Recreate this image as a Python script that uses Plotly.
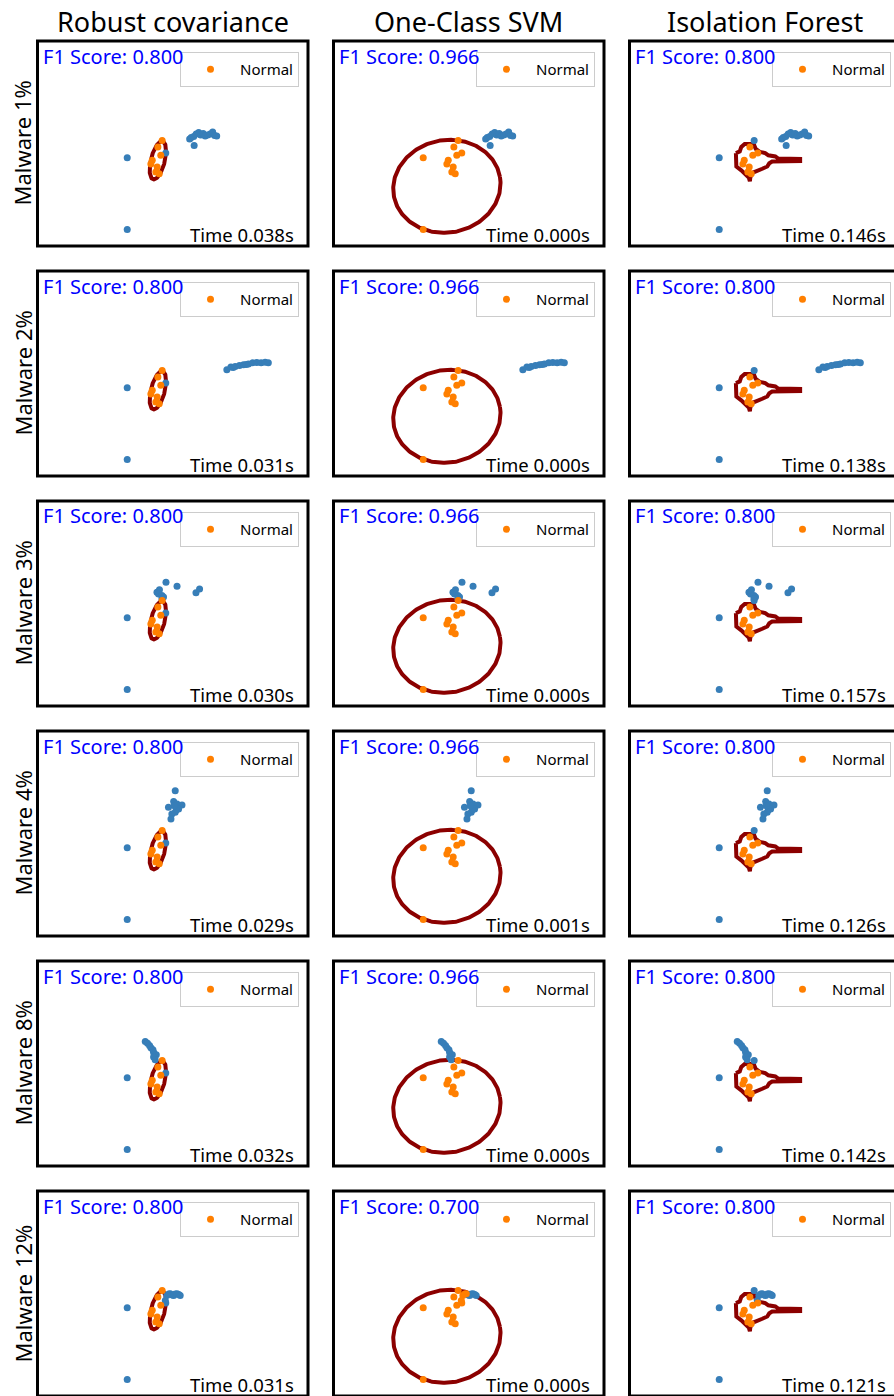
import numpy as np
import plotly.graph_objects as go
from plotly.subplots import make_subplots

# ---------------------------------------------------------------- data
methods = ["Robust covariance", "One-Class SVM", "Isolation Forest"]
malware_share = ["1%", "2%", "3%", "4%", "8%", "12%"]

f1_robust = [0.800, 0.800, 0.800, 0.800, 0.800, 0.800]
f1_svm = [0.966, 0.966, 0.966, 0.966, 0.966, 0.700]
f1_iforest = [0.800, 0.800, 0.800, 0.800, 0.800, 0.800]

time_robust = [0.038, 0.031, 0.030, 0.029, 0.032, 0.031]
time_svm = [0.000, 0.000, 0.000, 0.001, 0.000, 0.000]
time_iforest = [0.146, 0.138, 0.157, 0.126, 0.142, 0.121]

# benign traffic (2-D projection), shared by every experiment
normal_x = [-0.47, -0.66, -0.31, -0.53, -0.91, -0.97, -0.69, -0.75, -0.60, -2.02, -2.02]
normal_y = [0.13, -0.15, -0.42, -0.52, -0.74, -0.90, -1.03, -1.25, -1.33, -0.63, -3.78]

# injected malware samples for each contamination level
mal_1_x = [0.75, 0.82, 0.95, 0.93, 1.04, 1.15, 1.24, 1.35, 1.44, 1.55, 1.66, 1.77, 1.86, 1.95]
mal_1_y = [0.20, 0.26, -0.09, 0.31, 0.42, 0.48, 0.37, 0.44, 0.33, 0.37, 0.42, 0.50, 0.35, 0.33]
mal_2_x = [2.40, 2.58, 2.68, 2.77, 2.96, 3.14, 3.26, 3.36, 3.55, 3.73, 3.92, 4.10, 4.24]
mal_2_y = [0.16, 0.28, 0.26, 0.31, 0.35, 0.38, 0.39, 0.42, 0.47, 0.48, 0.47, 0.49, 0.47]
mal_3_x = [-0.30, 0.19, -0.70, -0.59, -0.63, -0.48, -0.41, -0.48, 1.19, 1.03]
mal_3_y = [0.93, 0.76, 0.49, 0.60, 0.42, 0.35, 0.28, 0.21, 0.64, 0.47]
mal_4_x = [0.11, 0.04, -0.19, 0.19, 0.41, 0.26, 0.11, -0.04, -0.08, 0.16, 0.07]
mal_4_y = [1.88, 1.41, 1.15, 1.30, 1.25, 1.08, 0.93, 0.86, 0.64, 1.04, 1.22]
mal_8_x = [-1.22, -1.12, -1.03, -0.97, -0.88, -0.85, -0.82, -0.73, -0.85, -0.78]
mal_8_y = [0.97, 0.89, 0.79, 0.69, 0.60, 0.49, 0.42, 0.38, 0.28, 0.16]
mal_12_x = [-0.33, -0.26, -0.18, -0.11, -0.02, 0.04, 0.11, 0.19, 0.27, 0.33]
mal_12_y = [-0.31, -0.09, -0.02, -0.01, -0.07, -0.09, -0.02, -0.01, -0.04, -0.09]

# benign samples each detector flags as anomalous
robust_flagged = [2, 9, 10]
svm_flagged = []
iforest_flagged = [0, 9, 10]
# malware samples accepted as normal by the One-Class SVM at 12 %
svm_missed_12 = [0, 1, 2, 3]

# learned decision boundaries
robust_center = (-0.66, -0.74)
robust_axes = (0.86, 0.31)
robust_angle = 76.0
svm_center = (-0.97, -1.88)
svm_axes = (2.39, 2.03)
svm_angle = 10.0
iforest_edge_x = [-1.28, -1.11, -1.04, -0.89, -0.49, -0.40, -0.22, 0.02, 0.16, 0.47,
                  0.60, 1.57, 1.57, 0.60, 0.33, 0.20, 0.11, -0.11, -0.42, -0.55,
                  -0.64, -0.66, -0.71, -0.86, -1.04, -1.26, -1.28]
iforest_edge_y = [-0.42, -0.35, -0.15, -0.02, -0.02, -0.24, -0.37, -0.42, -0.52, -0.57,
                  -0.66, -0.68, -0.77, -0.77, -0.79, -0.87, -1.01, -1.11, -1.22, -1.29,
                  -1.49, -1.66, -1.49, -1.33, -1.18, -1.01, -0.42]

# ---------------------------------------------------------------- layout constants
W, H = 894, 1396
FONT = "Noto Sans"
BLUE, ORANGE, EDGE = "#377eb8", "#ff7f00", "#8b0000"
col_left = [37.5, 333.5, 629.5]
row_top = [41 + 230 * r for r in range(6)]
panel_w, panel_h = 270.5, 205.0
x_span, y_span = (-6.0, 6.0), (-4.5, 4.5)
px_per_x = panel_w / (x_span[1] - x_span[0])


def ellipse(center, axes, angle_deg, n=240):
    t = np.linspace(0, 2 * np.pi, n)
    th = np.deg2rad(angle_deg)
    ex = center[0] + axes[0] * np.cos(t) * np.cos(th) - axes[1] * np.sin(t) * np.sin(th)
    ey = center[1] + axes[0] * np.cos(t) * np.sin(th) + axes[1] * np.sin(t) * np.cos(th)
    return ex, ey


malware_sets = [(mal_1_x, mal_1_y), (mal_2_x, mal_2_y), (mal_3_x, mal_3_y),
                (mal_4_x, mal_4_y), (mal_8_x, mal_8_y), (mal_12_x, mal_12_y)]
f1_table = [f1_robust, f1_svm, f1_iforest]
time_table = [time_robust, time_svm, time_iforest]
flag_table = [robust_flagged, svm_flagged, iforest_flagged]
boundaries = [ellipse(robust_center, robust_axes, robust_angle),
              ellipse(svm_center, svm_axes, svm_angle),
              (iforest_edge_x, iforest_edge_y)]

fig = make_subplots(rows=6, cols=3)
annotations, shapes = [], []

for r in range(6):
    mx, my = malware_sets[r]
    for c in range(3):
        k = r * 3 + c + 1
        leg = "legend" if k == 1 else f"legend{k}"
        bx, by = boundaries[c]
        fig.add_trace(go.Scatter(x=list(bx), y=list(by), mode="lines",
                                 line=dict(color=EDGE, width=4),
                                 showlegend=False, hoverinfo="skip"), row=r + 1, col=c + 1)

        flagged = set(flag_table[c])
        missed = set(svm_missed_12) if (c == 1 and r == 5) else set()
        inl_x = [normal_x[i] for i in range(len(normal_x)) if i not in flagged]
        inl_y = [normal_y[i] for i in range(len(normal_y)) if i not in flagged]
        out_x = [normal_x[i] for i in sorted(flagged)]
        out_y = [normal_y[i] for i in sorted(flagged)]
        for i in range(len(mx)):
            if i in missed:
                inl_x.append(mx[i]); inl_y.append(my[i])
            else:
                out_x.append(mx[i]); out_y.append(my[i])

        fig.add_trace(go.Scatter(x=out_x, y=out_y, mode="markers",
                                 marker=dict(color=BLUE, size=7, line=dict(width=0)),
                                 name="Malware", showlegend=False),
                      row=r + 1, col=c + 1)
        fig.add_trace(go.Scatter(x=inl_x, y=inl_y, mode="markers",
                                 marker=dict(color=ORANGE, size=7, line=dict(width=0)),
                                 name="Normal", showlegend=True, legend=leg),
                      row=r + 1, col=c + 1)

        # panel geometry in pixels -> paper fractions
        x0 = col_left[c]
        x1 = min(x0 + panel_w, W)
        y0 = row_top[r]
        y1 = y0 + panel_h
        xa = fig.layout[f"xaxis{k if k > 1 else ''}"]
        ya = fig.layout[f"yaxis{k if k > 1 else ''}"]
        xa.domain = [x0 / W, x1 / W]
        ya.domain = [max(0.0, 1 - y1 / H), 1 - y0 / H]
        xa.range = [x_span[0], x_span[0] + (x1 - x0) / px_per_x]
        ya.range = list(y_span)
        shapes.append(dict(type="rect", xref="paper", yref="paper",
                           x0=x0 / W, x1=(x0 + panel_w) / W,
                           y0=1 - y1 / H, y1=1 - y0 / H,
                           line=dict(color="black", width=3), layer="above"))

        fig.update_layout({leg: dict(
            x=(x0 + panel_w - 9) / W, xanchor="right",
            y=1 - (y0 + 11) / H, yanchor="top",
            bgcolor="rgba(255,255,255,0.8)", bordercolor="#cccccc", borderwidth=1,
            font=dict(family=FONT, size=15, color="black"), itemwidth=49,
            tracegroupgap=0)})

        annotations.append(dict(
            text=f"F1 Score: {f1_table[c][r]:.3f}", xref="paper", yref="paper",
            x=(x0 + 3) / W, y=1 - (y0 + 15) / H, xanchor="left", yanchor="middle",
            showarrow=False, font=dict(family=FONT, size=20, color="blue")))
        annotations.append(dict(
            text=f"Time {time_table[c][r]:.3f}s", xref="paper", yref="paper",
            x=(x0 + panel_w - 12) / W, y=1 - (y0 + 193) / H,
            xanchor="right", yanchor="middle",
            showarrow=False, font=dict(family=FONT, size=18.5, color="black")))

    annotations.append(dict(
        text=f"Malware {malware_share[r]}", xref="paper", yref="paper",
        x=22 / W, y=1 - (row_top[r] + panel_h / 2) / H, xanchor="center", yanchor="middle",
        textangle=-90, showarrow=False, font=dict(family=FONT, size=22, color="black")))

for c in range(3):
    annotations.append(dict(
        text=methods[c], xref="paper", yref="paper",
        x=(col_left[c] + panel_w / 2) / W, y=1 - 22 / H, xanchor="center", yanchor="middle",
        showarrow=False, font=dict(family=FONT, size=27, color="black")))

fig.update_xaxes(showticklabels=False, ticks="", showgrid=False, zeroline=False,
                 showline=False, fixedrange=True)
fig.update_yaxes(showticklabels=False, ticks="", showgrid=False, zeroline=False,
                 showline=False, fixedrange=True)
fig.update_layout(width=W, height=H, margin=dict(l=0, r=0, t=0, b=0),
                  paper_bgcolor="white", plot_bgcolor="white",
                  annotations=annotations, shapes=shapes,
                  font=dict(family=FONT))

fig.write_html("out.html")
